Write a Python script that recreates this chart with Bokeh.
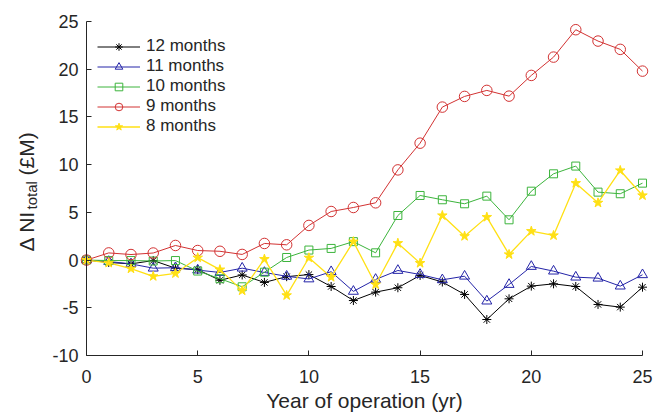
import math

from bokeh.plotting import figure
from bokeh.models import Range1d, Legend, LegendItem, FixedTicker
from bokeh.core.properties import value
from bokeh.embed import file_html
from bokeh.resources import INLINE

# ---- data -------------------------------------------------------------
years = list(range(26))

ni_12_months = [0, -0.25, -0.4, -0.05, -0.85, -1.0, -2.12, -1.56, -2.34, -1.74,
                -1.52, -2.77, -4.24, -3.36, -2.9, -1.61, -2.3, -3.6, -6.23, -4.06,
                -2.73, -2.49, -2.77, -4.65, -4.93, -2.84]
ni_11_months = [0, -0.15, -0.4, -0.85, -0.8, -1.05, -1.3, -0.85, -1.3, -1.7,
                -1.98, -1.22, -3.28, -2.03, -1.09, -1.51, -2.07, -1.69, -4.3, -2.56,
                -0.67, -1.16, -1.79, -1.9, -2.73, -1.54]
ni_10_months = [0, -0.05, -0.05, -0.1, -0.05, -1.15, -1.95, -2.8, -1.27, 0.27,
                1.05, 1.22, 1.93, 0.76, 4.67, 6.77, 6.32, 5.9, 6.7, 4.22,
                7.22, 9.04, 9.85, 7.12, 6.95, 8.06]
ni_9_months = [0, 0.75, 0.58, 0.74, 1.53, 1.0, 0.92, 0.59, 1.74, 1.6,
               3.63, 5.09, 5.51, 6.0, 9.45, 12.25, 16.03, 17.15, 17.78, 17.18,
               19.35, 21.27, 24.14, 22.95, 22.08, 19.8]
ni_8_months = [0, -0.3, -0.9, -1.7, -1.4, 0.25, -1.0, -3.2, 0.1, -3.7,
               0.24, -1.79, 1.93, -2.56, 1.77, -0.32, 4.67, 2.5, 4.5, 0.59,
               3.03, 2.58, 8.06, 6.0, 9.39, 6.77]

series_labels = ["12 months", "11 months", "10 months", "9 months", "8 months"]

x_ticks = [0, 5, 10, 15, 20, 25]
x_tick_labels = ["0", "5", "10", "15", "20", "25"]
y_ticks = [-10, -5, 0, 5, 10, 15, 20, 25]
y_tick_labels = ["-10", "-5", "0", "5", "10", "15", "20", "25"]

# ---- layout / styling -------------------------------------------------
FONT = "Liberation Sans"
TEXT = "#262626"
X0, X1 = 0, 25
Y0, Y1 = -10, 25
W, H = 670, 414
# canvas pixels where the axes start and end
AXIS_L, AXIS_R, AXIS_T, AXIS_B = 86, 642, 21, 355

# the frame covers the whole canvas; both axes are pinned at the data
# origin of the plot box, so the axis titles can be drawn as text glyphs
px_x = (AXIS_R - AXIS_L) / (X1 - X0)
px_y = (AXIS_B - AXIS_T) / (Y1 - Y0)
x_start = X0 - AXIS_L / px_x
x_end = X1 + (W - AXIS_R) / px_x
y_end = Y1 + AXIS_T / px_y
y_start = Y0 - (H - AXIS_B) / px_y


def sx_to_x(px):
    return x_start + px / px_x


def sy_to_y(py):
    return y_end - py / px_y


styles = [
    dict(color="#000000", marker="asterisk", size=9, fill=None, lw=1.0),
    dict(color="#2424a8", marker="triangle", size=10, fill=None, lw=1.0),
    dict(color="#3cb43c", marker="square", size=8, fill=None, lw=1.0),
    dict(color="#d23232", marker="circle", size=10.5, fill=None, lw=1.0),
    dict(color="#ffe014", marker="star", size=10, fill="#ffe014", lw=1.3),
]
series = [ni_12_months, ni_11_months, ni_10_months, ni_9_months, ni_8_months]

p = figure(width=W, height=H, output_backend="svg", toolbar_location=None,
           x_range=Range1d(x_start, x_end), y_range=Range1d(y_start, y_end),
           min_border=0)
p.outline_line_color = None
p.grid.visible = False
p.background_fill_color = "white"
p.border_fill_color = "white"

for ax in (p.xaxis[0], p.yaxis[0]):
    ax.axis_line_color = TEXT
    ax.axis_line_width = 1
    ax.major_tick_line_color = TEXT
    ax.major_tick_in = 5
    ax.major_tick_out = 0
    ax.minor_tick_line_color = None
    ax.major_label_text_font = FONT
    ax.major_label_text_font_size = "18px"
    ax.major_label_text_color = TEXT

p.xaxis.ticker = FixedTicker(ticks=x_ticks)
p.xaxis.major_label_overrides = dict(zip(x_ticks, x_tick_labels))
p.xaxis.major_label_standoff = 14
p.xaxis.bounds = (X0, X1)
p.xaxis.fixed_location = Y0

p.yaxis.ticker = FixedTicker(ticks=y_ticks)
p.yaxis.major_label_overrides = dict(zip(y_ticks, y_tick_labels))
p.yaxis.major_label_standoff = 8
p.yaxis.bounds = (Y0, Y1)
p.yaxis.fixed_location = X0

items = []
for data, label, st in zip(series, series_labels, styles):
    lr = p.line(years, data, line_color=st["color"], line_width=st["lw"])
    sr = p.scatter(years, data, marker=st["marker"], size=st["size"],
                   line_color=st["color"], fill_color=st["fill"], line_width=1)
    items.append(LegendItem(label=label, renderers=[lr, sr]))

legend = Legend(items=items, location=(97, 278), margin=0, padding=0,
                spacing=-3, glyph_width=43, glyph_height=19, label_height=19,
                label_standoff=6, border_line_color=None,
                background_fill_alpha=0,
                label_text_font=FONT, label_text_font_size="17px",
                label_text_color=TEXT)
p.add_layout(legend, "center")

# x-axis title
p.text(x=[sx_to_x((AXIS_L + AXIS_R) / 2)], y=[sy_to_y(400)],
       text=["Year of operation (yr)"], text_align="center",
       text_baseline="alphabetic", text_font=value(FONT),
       text_font_size=value("21px"), text_color=TEXT)

# y-axis title: "Δ NI" with subscript "total", then "(£M)"
ylab_parts = [
    ("\u0394 NI", 26, 251, "21px"),
    ("total", 31, 209, "15px"),
    ("(\u00a3M)", 26, 175, "21px"),
]
for txt, px, py, fs in ylab_parts:
    p.text(x=[sx_to_x(px)], y=[sy_to_y(py)], text=[txt], angle=math.pi / 2,
           text_align="left", text_baseline="alphabetic",
           text_font=value(FONT), text_font_size=value(fs), text_color=TEXT)

open("out.html", "w").write(file_html(p, INLINE))
